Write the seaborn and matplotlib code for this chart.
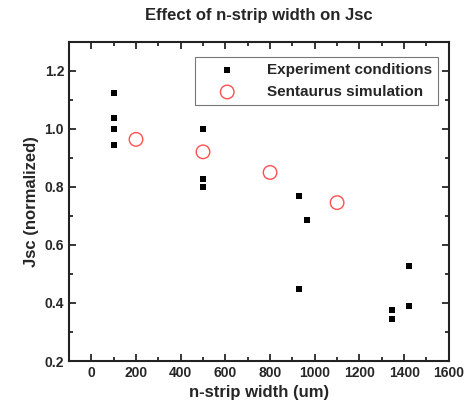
import seaborn as sns
import matplotlib.pyplot as plt
from matplotlib.ticker import MultipleLocator

# experiment data (n-strip width in um, normalized Jsc)
exp_width = [100, 100, 100, 100, 500, 500, 500, 930, 930, 965, 1345, 1345, 1420, 1420]
exp_jsc = [1.124, 1.037, 1.0, 0.945, 1.0, 0.829, 0.8, 0.769, 0.447, 0.687, 0.377, 0.345, 0.527, 0.39]

# simulation data
sim_width = [200, 500, 800, 1100]
sim_jsc = [0.964, 0.921, 0.85, 0.746]

sns.set_style("ticks")
plt.rcParams['font.family'] = ['Liberation Sans', 'DejaVu Sans']
plt.rcParams['font.weight'] = 'bold'

fig = plt.figure(figsize=(4.69, 4.07), dpi=100)
ax = fig.add_axes([0.147, 0.113, 0.81, 0.784])

sns.scatterplot(x=exp_width, y=exp_jsc, ax=ax, marker='s', color='black',
                s=25, edgecolor='black', linewidth=0, label='Experiment conditions')
sns.scatterplot(x=sim_width, y=sim_jsc, ax=ax, marker='o', facecolor='none',
                edgecolor='#ff5050', s=95, linewidth=1.0, label='Sentaurus simulation')

ax.set_xlim(-100, 1600)
ax.set_ylim(0.2, 1.3)
ax.xaxis.set_major_locator(MultipleLocator(200))
ax.xaxis.set_minor_locator(MultipleLocator(100))
ax.yaxis.set_major_locator(MultipleLocator(0.2))
ax.yaxis.set_minor_locator(MultipleLocator(0.1))
ax.tick_params(which='both', direction='in', top=True, right=True, width=1.3, labelsize=10)
ax.tick_params(which='major', length=5)
ax.tick_params(which='minor', length=3)
for sp in ax.spines.values():
    sp.set_linewidth(1.5)
    sp.set_color('#222222')

ax.set_xlabel('n-strip width (um)', fontsize=12, fontweight='bold')
ax.set_ylabel('Jsc (normalized)', fontsize=12, fontweight='bold')
ax.set_title('Effect of n-strip width on Jsc', fontsize=12, fontweight='bold', pad=16)

leg = ax.legend(loc='upper right', frameon=True, fancybox=False, fontsize=11,
                edgecolor='#555555', borderpad=0.4, handlelength=3.4,
                handletextpad=0.9, labelspacing=0.5, borderaxespad=0,
                bbox_to_anchor=(0.972, 0.952))
leg.get_frame().set_linewidth(0.8)

fig.savefig('out.png', dpi=100)
